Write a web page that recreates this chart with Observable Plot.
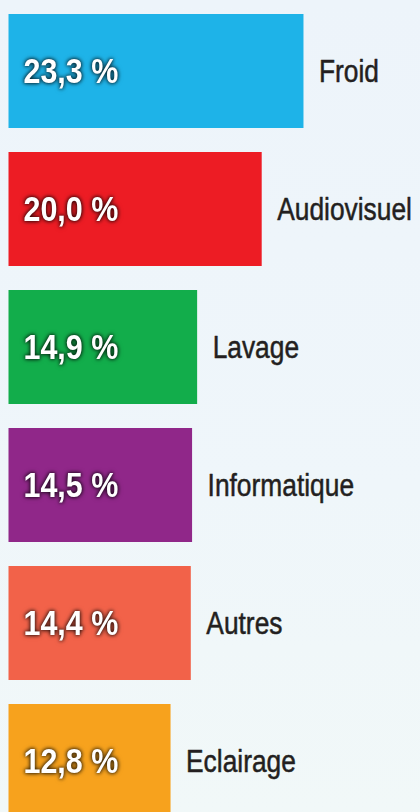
<!DOCTYPE html>
<html>
<head>
<meta charset="utf-8">
<script src="https://cdn.jsdelivr.net/npm/d3@7"></script>
<script src="https://cdn.jsdelivr.net/npm/@observablehq/plot@0.6"></script>
<style>
  html, body { margin: 0; padding: 0; width: 420px; height: 812px; overflow: hidden; }
  body { background: linear-gradient(180deg, #edf4fa 0%, #eff6fa 60%, #f1f8f8 100%); }
  #chart svg { display: block; background: transparent; }
  .val text { filter: drop-shadow(0 0 2px rgba(0,0,0,0.75)) drop-shadow(0 0 1.5px rgba(0,0,0,0.5)); }
</style>
</head>
<body>
<div id="chart"></div>
<script>
const categories = ["Froid", "Audiovisuel", "Lavage", "Informatique", "Autres", "Eclairage"];
const values = [23.3, 20.0, 14.9, 14.5, 14.4, 12.8];
const labels = ["23,3 %", "20,0 %", "14,9 %", "14,5 %", "14,4 %", "12,8 %"];
const colors = ["#1eb3e8", "#ed1c24", "#12ad4b", "#902789", "#f26249", "#f7a21d"];

const data = categories.map((c, i) => ({cat: c, value: values[i], label: labels[i], color: colors[i]}));

const FONT = "'Liberation Sans', Arial, Helvetica, sans-serif";

const chart = Plot.plot({
  width: 420,
  height: 832,
  marginTop: 0, marginBottom: 0, marginLeft: 0, marginRight: 0,
  x: {domain: [0, 30], range: [8.5, 8.5 + 30 * 12.66], axis: null},
  y: {domain: categories, range: [12, 819], paddingInner: 0.1775, paddingOuter: 0, axis: null},
  marks: [
    Plot.barX(data, {y: "cat", x: "value", fill: "color"}),
    Plot.text(data, {
      y: "cat", x: 0, text: "label", dx: 14.5, dy: 0.5, textAnchor: "start",
      fill: "white", fontSize: 35, fontWeight: "bold",
      fontFamily: FONT,
      className: "val"
    }),
    Plot.text(data, {
      y: "cat", x: "value", text: "cat", dx: 15, dy: 0.5, textAnchor: "start",
      fill: "#231f20", stroke: "#231f20", strokeWidth: 0.5, fontSize: 31,
      fontFamily: FONT,
      className: "cat"
    })
  ]
});
document.getElementById("chart").appendChild(chart);

// condensed look: compress glyphs horizontally
function condense(selector, factor) {
  chart.querySelectorAll(selector).forEach(t => {
    const w = t.getComputedTextLength();
    t.setAttribute("textLength", w * factor);
    t.setAttribute("lengthAdjust", "spacingAndGlyphs");
  });
}
condense(".val text", 0.87);
condense(".cat text", 0.85);
</script>
</body>
</html>
